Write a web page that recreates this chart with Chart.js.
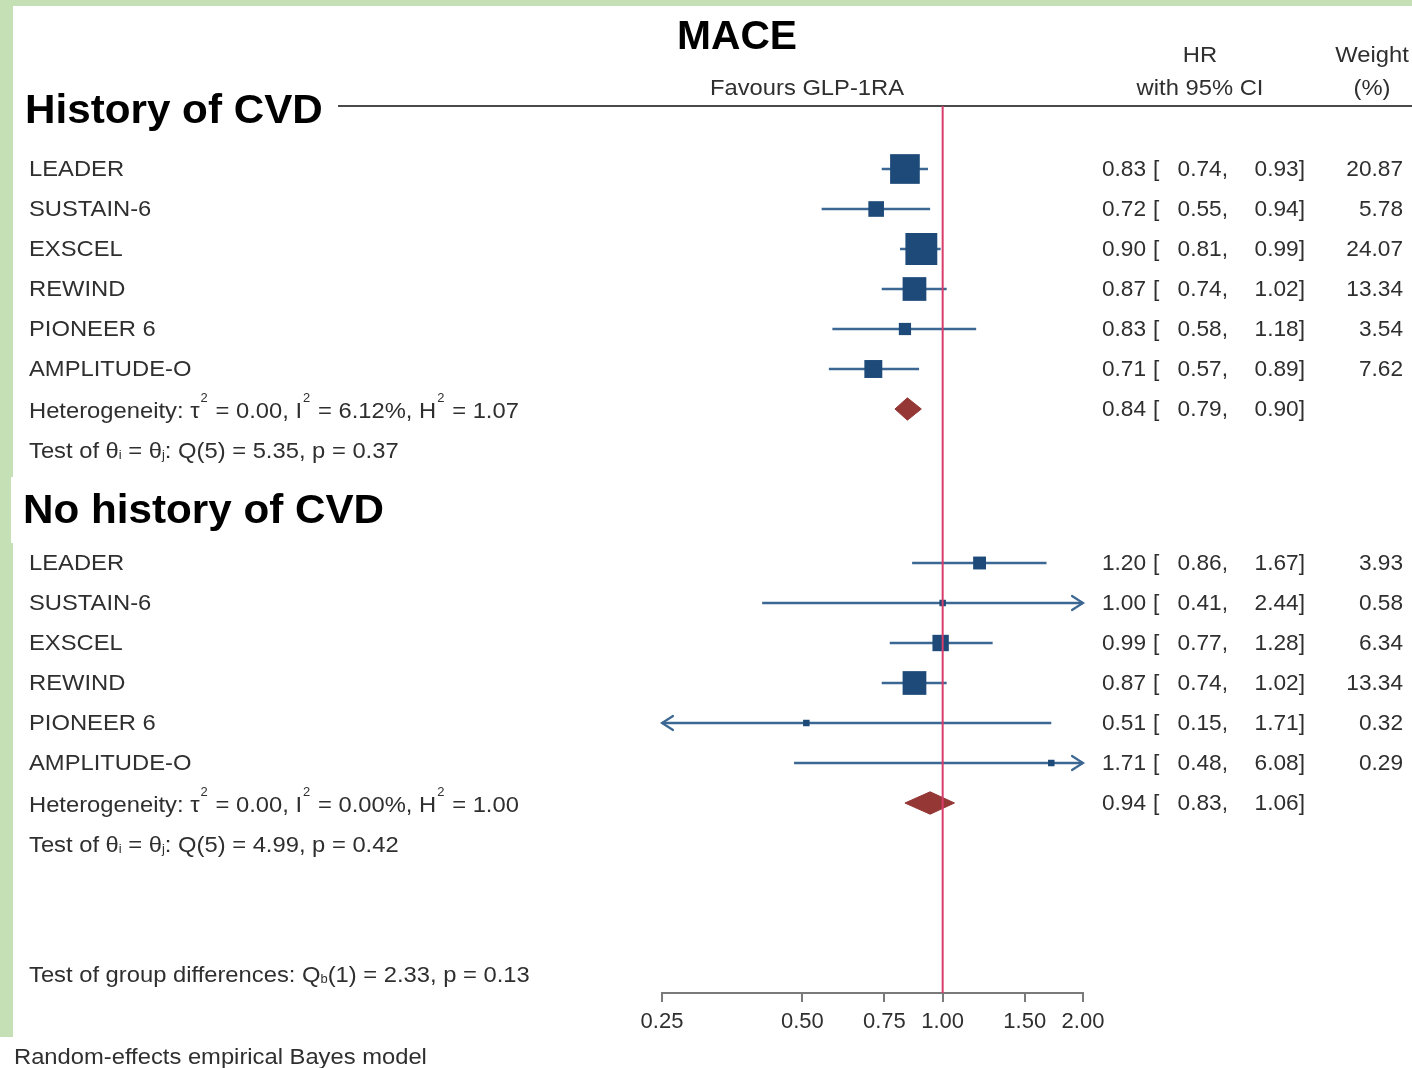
<!DOCTYPE html>
<html>
<head>
<meta charset="utf-8">
<script src="https://cdn.jsdelivr.net/npm/chart.js@4.4.1/dist/chart.umd.min.js"></script>
<style>
  html, body { margin: 0; padding: 0; background: #ffffff; }
  canvas { display: block; }
</style>
</head>
<body>
<canvas id="forest" width="1412" height="1068"></canvas>
<script>
// ---- data ----
const studies = ['LEADER', 'SUSTAIN-6', 'EXSCEL', 'REWIND', 'PIONEER 6', 'AMPLITUDE-O'];

// History of CVD
const cvdHR     = [0.83, 0.72, 0.90, 0.87, 0.83, 0.71];
const cvdLower  = [0.74, 0.55, 0.81, 0.74, 0.58, 0.57];
const cvdUpper  = [0.93, 0.94, 0.99, 1.02, 1.18, 0.89];
const cvdWeight = [20.87, 5.78, 24.07, 13.34, 3.54, 7.62];
const cvdPooled = [0.84, 0.79, 0.90];   // HR, lower, upper

// No history of CVD
const noHR     = [1.20, 1.00, 0.99, 0.87, 0.51, 1.71];
const noLower  = [0.86, 0.41, 0.77, 0.74, 0.15, 0.48];
const noUpper  = [1.67, 2.44, 1.28, 1.02, 1.71, 6.08];
const noWeight = [3.93, 0.58, 6.34, 13.34, 0.32, 0.29];
const noPooled = [0.94, 0.83, 1.06];

const xTickValues = [0.25, 0.50, 0.75, 1.00, 1.50, 2.00];
const xMin = 0.25, xMax = 2.00;

// ---- layout (row units: one row = 40px) ----
const ROW_MIN = -1.575, ROW_MAX = 20.6;
const cvdStart = 0, noStart = 9.85, groupDiffRow = 20.1;

const ciColor = '#3b6792';
const boxColor = '#1d4a78';
const diamondColor = '#953735';
const refColor = '#d93d6b';
const textColor = '#2f2f2f';
const FONT = '"Liberation Sans", Arial, Helvetica, sans-serif';
const WIDE = 1.08;   // horizontal stretch for word labels
const NUMW = 1.03;   // horizontal stretch for numeric columns

// chevron arrow heads for truncated intervals (tip sits at the image centre)
function makeArrow(dir) {
  const c = document.createElement('canvas');
  c.width = 30; c.height = 20;
  const g = c.getContext('2d');
  g.strokeStyle = ciColor; g.lineWidth = 2.2; g.lineCap = 'round'; g.lineJoin = 'miter';
  g.beginPath();
  if (dir > 0) { g.moveTo(4, 3); g.lineTo(15, 10); g.lineTo(4, 17); }
  else { g.moveTo(26, 3); g.lineTo(15, 10); g.lineTo(26, 17); }
  g.stroke();
  return c;
}
const arrowRight = makeArrow(1), arrowLeft = makeArrow(-1);

function groupDatasets(hr, lo, hi, w, pooled, start) {
  const out = [];
  const rightArrows = [], leftArrows = [];
  hr.forEach((h, i) => {
    const y = start + i;
    out.push({
      type: 'line', data: [{ x: Math.max(lo[i], xMin), y }, { x: Math.min(hi[i], xMax), y }],
      borderColor: ciColor, borderWidth: 2.5, pointRadius: 0, fill: false, order: 3, clip: false
    });
    if (hi[i] > xMax) rightArrows.push({ x: xMax, y });
    if (lo[i] < xMin) leftArrows.push({ x: xMin, y });
  });
  out.push({
    type: 'scatter', data: hr.map((h, i) => ({ x: h, y: start + i })),
    pointStyle: 'rect',
    pointRadius: w.map(v => Math.max(6.5, 6.5 * Math.sqrt(v)) / Math.SQRT2),
    backgroundColor: boxColor, borderColor: boxColor, borderWidth: 0, order: 2, clip: false
  });
  if (rightArrows.length) out.push({ type: 'scatter', data: rightArrows, pointStyle: arrowRight, pointRadius: 6, order: 2, clip: false });
  if (leftArrows.length) out.push({ type: 'scatter', data: leftArrows, pointStyle: arrowLeft, pointRadius: 6, order: 2, clip: false });
  const py = start + 6, hh = 0.28;
  out.push({
    type: 'line', fill: 'shape',
    data: [{ x: pooled[1], y: py }, { x: pooled[0], y: py - hh }, { x: pooled[2], y: py },
           { x: pooled[0], y: py + hh }, { x: pooled[1], y: py }],
    borderColor: diamondColor, backgroundColor: diamondColor, borderWidth: 1, pointRadius: 0,
    tension: 0, order: 2, clip: false
  });
  return out;
}

const datasets = [
  { type: 'line', data: [{ x: 1, y: ROW_MIN }, { x: 1, y: ROW_MAX }],
    borderColor: refColor, borderWidth: 2, pointRadius: 0, fill: false, order: 0 },
  ...groupDatasets(cvdHR, cvdLower, cvdUpper, cvdWeight, cvdPooled, cvdStart),
  ...groupDatasets(noHR, noLower, noUpper, noWeight, noPooled, noStart)
];

// ---- text helpers ----
function rich(ctx, x, y, parts, size, color, sx = WIDE) {
  // parts: strings, or {t, sup:true} / {t, sub:true}
  ctx.save();
  ctx.translate(x, y);
  ctx.scale(sx, 1);
  ctx.fillStyle = color;
  ctx.textBaseline = 'alphabetic';
  ctx.textAlign = 'left';
  let cx = 0;
  parts.forEach(p => {
    if (typeof p === 'string') {
      ctx.font = `${size}px ${FONT}`;
      ctx.fillText(p, cx, 0);
      cx += ctx.measureText(p).width;
    } else if (p.sup) {
      ctx.font = `${Math.round(size * 0.55)}px ${FONT}`;
      ctx.fillText(p.t, cx + 1, -size * 0.72);
      cx += ctx.measureText(p.t).width + 2;
    } else {
      ctx.font = `${Math.round(size * 0.55)}px ${FONT}`;
      ctx.fillText(p.t, cx, 1);
      cx += ctx.measureText(p.t).width;
    }
  });
  ctx.restore();
}

function text(ctx, s, x, y, size, align, opts = {}) {
  ctx.save();
  ctx.translate(x, y);
  ctx.scale(opts.sx || WIDE, 1);
  ctx.font = `${opts.bold ? 'bold ' : ''}${size}px ${FONT}`;
  ctx.fillStyle = opts.color || textColor;
  ctx.textAlign = align;
  ctx.textBaseline = 'middle';
  ctx.fillText(s, 0, 0);
  ctx.restore();
}

const f2 = v => v.toFixed(2);

const decorPlugin = {
  id: 'decor',
  beforeDraw(chart) {
    const ctx = chart.ctx;
    ctx.save();
    ctx.fillStyle = '#ffffff';
    ctx.fillRect(0, 0, chart.width, chart.height);
    ctx.fillStyle = '#c5e0b4';
    ctx.fillRect(0, 0, chart.width, 6);
    ctx.fillRect(0, 0, 13, 1037);
    ctx.fillStyle = '#ffffff';
    ctx.fillRect(11, 477, 390, 66);
    // rule under the column headers
    ctx.strokeStyle = '#4a4a4a';
    ctx.lineWidth = 2;
    ctx.beginPath();
    ctx.moveTo(338, 106);
    ctx.lineTo(chart.width, 106);
    ctx.stroke();
    ctx.restore();
  },
  afterDraw(chart) {
    const ctx = chart.ctx;
    const ys = chart.scales.y;
    const Y = v => ys.getPixelForValue(v);
    const S = 22;
    const num = { sx: NUMW };
    ctx.save();
    // titles and column headers
    text(ctx, 'MACE', 737, Y(-3.28), 40, 'center', { bold: true, color: '#000', sx: 1.02 });
    text(ctx, 'History of CVD', 25, Y(-1.42), 40, 'left', { bold: true, color: '#000', sx: 1.055 });
    text(ctx, 'Favours GLP-1RA', 807, Y(-2.0), S, 'center');
    text(ctx, 'HR', 1200, Y(-2.82), S, 'center');
    text(ctx, 'with 95% CI', 1200, Y(-2.0), S, 'center');
    text(ctx, 'Weight', 1372, Y(-2.82), S, 'center');
    text(ctx, '(%)', 1372, Y(-2.0), S, 'center');
    text(ctx, 'No history of CVD', 23, Y(8.58), 40, 'left', { bold: true, color: '#000', sx: 1.055 });

    const groups = [
      { start: cvdStart, hr: cvdHR, lo: cvdLower, hi: cvdUpper, w: cvdWeight, pooled: cvdPooled,
        het: ['Heterogeneity: \u03c4', { t: '2', sup: true }, ' = 0.00, I', { t: '2', sup: true }, ' = 6.12%, H', { t: '2', sup: true }, ' = 1.07'],
        test: ['Test of \u03b8', { t: 'i', sub: true }, ' = \u03b8', { t: 'j', sub: true }, ': Q(5) = 5.35, p = 0.37'] },
      { start: noStart, hr: noHR, lo: noLower, hi: noUpper, w: noWeight, pooled: noPooled,
        het: ['Heterogeneity: \u03c4', { t: '2', sup: true }, ' = 0.00, I', { t: '2', sup: true }, ' = 0.00%, H', { t: '2', sup: true }, ' = 1.00'],
        test: ['Test of \u03b8', { t: 'i', sub: true }, ' = \u03b8', { t: 'j', sub: true }, ': Q(5) = 4.99, p = 0.42'] }
    ];
    const numRow = (y, hr, lo, hi, w) => {
      text(ctx, f2(hr), 1146, y, S, 'right', num);
      text(ctx, '[', 1153, y, S, 'left', num);
      text(ctx, f2(lo) + ',', 1228, y, S, 'right', num);
      text(ctx, f2(hi) + ']', 1305, y, S, 'right', num);
      if (w !== null) text(ctx, f2(w), 1403, y, S, 'right', num);
    };
    groups.forEach(g => {
      studies.forEach((name, i) => {
        const y = Y(g.start + i) + 1;
        text(ctx, name, 29, y, S, 'left');
        numRow(y, g.hr[i], g.lo[i], g.hi[i], g.w[i]);
      });
      const yh = Y(g.start + 6) + 1;
      rich(ctx, 29, yh + 8, g.het, S, textColor);
      numRow(yh, g.pooled[0], g.pooled[1], g.pooled[2], null);
      rich(ctx, 29, Y(g.start + 7) + 9, g.test, S, textColor);
    });
    rich(ctx, 29, Y(groupDiffRow) + 9, ['Test of group differences: Q', { t: 'b', sub: true }, '(1) = 2.33, p = 0.13'], S, textColor);
    text(ctx, 'Random-effects empirical Bayes model', 14, 1058, S, 'left');
    ctx.restore();
  }
};

new Chart(document.getElementById('forest'), {
  type: 'scatter',
  data: { datasets },
  options: {
    responsive: false,
    animation: false,
    devicePixelRatio: 1,
    events: [],
    layout: { padding: { top: 106, left: 662, right: 329, bottom: 0 } },
    plugins: { legend: { display: false }, tooltip: { enabled: false }, title: { display: false } },
    scales: {
      x: {
        type: 'logarithmic', min: xMin, max: xMax, position: 'bottom',
        afterBuildTicks: s => { s.ticks = xTickValues.map(v => ({ value: v })); },
        afterFit: s => { s.height = 75; },
        ticks: {
          autoSkip: false, maxRotation: 0, color: textColor, padding: 7,
          font: { family: FONT, size: 22 },
          callback: v => Number(v).toFixed(2)
        },
        grid: { display: true, drawOnChartArea: false, drawTicks: true, tickLength: 9, color: '#7a7a7a', lineWidth: 2 },
        border: { display: true, color: '#7a7a7a', width: 2 }
      },
      y: {
        type: 'linear', reverse: true, min: ROW_MIN, max: ROW_MAX, display: false
      }
    }
  },
  plugins: [decorPlugin]
});
</script>
</body>
</html>
